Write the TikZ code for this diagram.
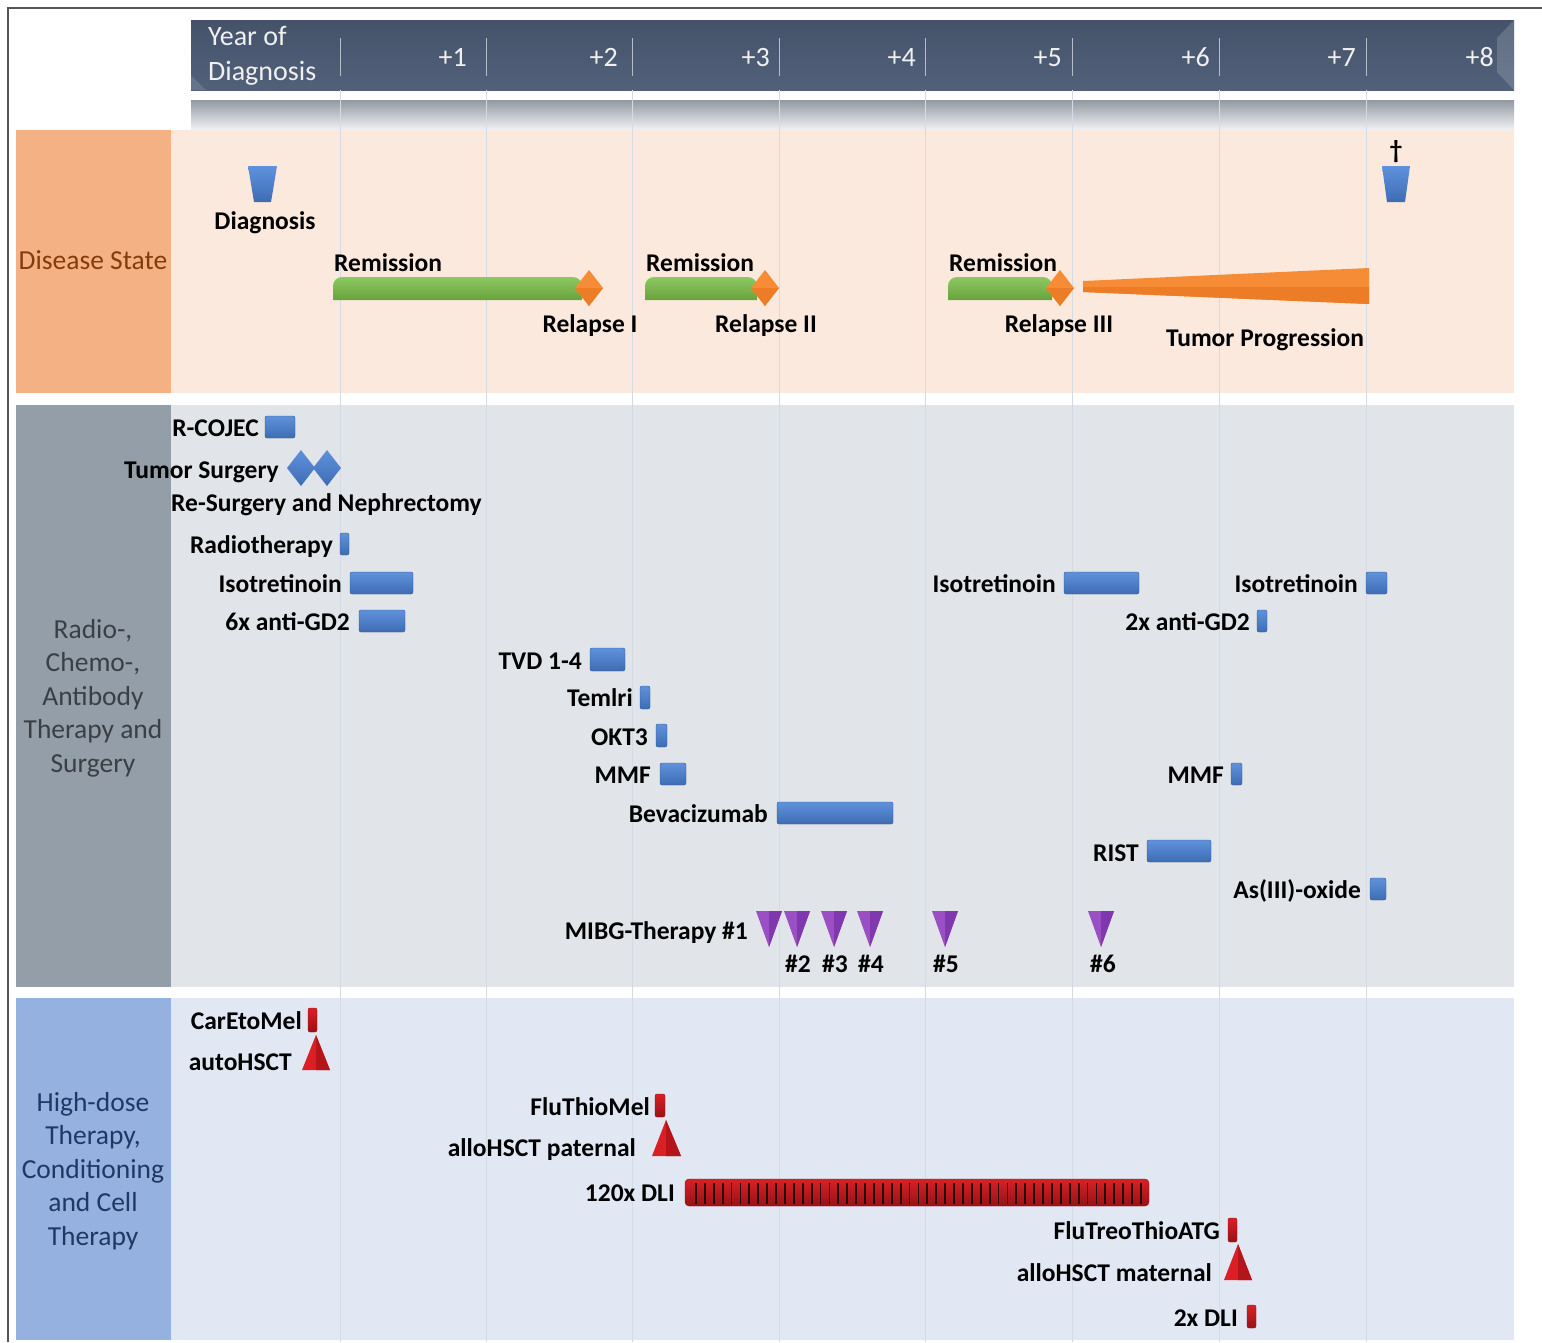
\documentclass[tikz,border=0pt]{standalone}
\usepackage{fontspec}
\setmainfont{Carlito}
\definecolor{hdr}{HTML}{4A5870}
\definecolor{hdrT}{HTML}{44526A}
\definecolor{hdrB}{HTML}{52617A}
\definecolor{dsL}{HTML}{F4B183}
\definecolor{dsR}{HTML}{FBE9DD}
\definecolor{rcL}{HTML}{949EA9}
\definecolor{rcR}{HTML}{E1E4E8}
\definecolor{hdL}{HTML}{95B1DF}
\definecolor{hdR}{HTML}{E1E7F3}
\definecolor{blueT}{HTML}{5F92DC}
\definecolor{blueB}{HTML}{3E6CB4}
\definecolor{grnT}{HTML}{8DC962}
\definecolor{grnB}{HTML}{68A23D}
\definecolor{org}{HTML}{F68C35}
\definecolor{orgD}{HTML}{EC7D26}
\definecolor{redT}{HTML}{DA2025}
\definecolor{redB}{HTML}{B3151A}
\definecolor{purT}{HTML}{9A4FC4}
\definecolor{purB}{HTML}{7F38AE}
\definecolor{gridc}{HTML}{D3DBE6}
\definecolor{dsTxt}{HTML}{843C0C}
\definecolor{rcTxt}{HTML}{3A3F46}
\definecolor{hdTxt}{HTML}{1F3864}
\definecolor{frame}{HTML}{555555}
\tikzset{
  lab/.style={font=\bfseries\fontsize{25.5}{30}\selectfont, inner sep=0pt, anchor=base east, text=black},
  labw/.style={lab, anchor=base west},
  labc/.style={lab, anchor=base},
  band/.style={font=\fontsize{27.5}{33.5}\selectfont, inner sep=0pt, align=center, anchor=base},
  hdtxt/.style={font=\fontsize{28}{32}\selectfont, inner sep=0pt, text=white!94!black},
  bluebar/.style={top color=blueT, bottom color=blueB, draw=blueB!80!black, line width=0.4pt, rounded corners=2pt},
  redbar/.style={top color=redT, bottom color=redB!85!black, draw=redB!80!black, line width=0.4pt, rounded corners=2pt},
  grnbar/.style={top color=grnT, bottom color=grnB},
}
\newcommand\mybar[6]{\path[#1] (#3,#5) rectangle (#4,#6) node[inner sep=0pt, pos=.5] (#2) {};}
\begin{document}
\begin{tikzpicture}[x=1pt,y=-1pt]
\useasboundingbox (0,0) rectangle (1542,1342);
\fill[white] (0,0) rectangle (1542,1342);
% frame
\draw[frame, line width=2pt] (8,1342) -- (8,8) -- (1542,8);
% header
\shade[top color=hdrT, bottom color=hdrB] (191,20) rectangle (1514,90);
\fill[white, opacity=0.16] (1514,20) -- (1514,90) -- (1497,72) -- (1497,38) -- cycle;
\fill[white, opacity=0.12] (191,90) -- (191,75) -- (206,90) -- cycle;
\foreach \x in {340,486,632,779,925,1072,1219,1366}
  \draw[white!60!hdr, line width=0.8pt] (\x,38) -- (\x,76);
\node[hdtxt, anchor=base west] (yr1) at (208,45) {Year of};
\node[hdtxt, anchor=base west] (yr2) at (208,80) {Diagnosis};
\foreach \x/\t [count=\i] in {467/+1,618/+2,770/+3,916/+4,1062/+5,1210/+6,1356/+7,1494/+8}
  \node[hdtxt, anchor=base east] (h\i) at (\x,66) {\t};
% gradient band
\shade[top color=black!30!hdrB!55!white, bottom color=white!92!hdrB] (191,100) rectangle (1514,130);
% bands
\fill[dsL] (16,130) rectangle (171,393);
\fill[dsR] (171,130) rectangle (1514,393);
\fill[rcL] (16,405) rectangle (171,987);
\fill[rcR] (171,405) rectangle (1514,987);
\fill[hdL] (16,998) rectangle (171,1340);
\fill[hdR] (171,998) rectangle (1514,1340);
% grid lines
\foreach \x in {340,486,632,779,925,1072,1219,1366}
  \draw[gridc, line width=0.8pt] (\x,90) -- (\x,1342);
% band labels
\node[band, text=dsTxt] (bl1) at (93,269) {Disease State};
\node[band, text=rcTxt] (bl2) at (93,772) {Radio-,\\Chemo-,\\Antibody\\Therapy and\\Surgery};
\node[band, text=hdTxt] (bl3) at (93,1245) {High-dose\\Therapy,\\Conditioning\\and Cell\\Therapy};

% ---------- Disease state ----------
\shade[top color=blueT, bottom color=blueB] (248,166) -- (277,166) -- (271,202) -- (254,202) -- cycle;
\node[labc] (diag) at (265,229) {Diagnosis};
\shade[top color=blueT, bottom color=blueB] (1382,166) -- (1410,166) -- (1405,202) -- (1387,202) -- cycle;
\node[labc] (death) at (1396,158) {†};
% remission bars
\shade[grnbar, rounded corners=9pt] (333,300) -- (333,277) -- (582,277) [sharp corners] -- (582,300) -- cycle;
\shade[grnbar, rounded corners=9pt] (645,300) -- (645,277) -- (757,277) [sharp corners] -- (757,300) -- cycle;
\shade[grnbar, rounded corners=9pt] (948,300) -- (948,277) -- (1052,277) [sharp corners] -- (1052,300) -- cycle;
\node[labw] (rem1) at (334,271) {Remission};
\node[labw] (rem2) at (646,271) {Remission};
\node[labw] (rem3) at (949,271) {Remission};
% diamonds
\foreach \x in {589,765,1060}{
  \fill[org] (\x-14,288) -- (\x,270) -- (\x+14,288) -- (\x,306) -- cycle;
  \fill[orgD] (\x-14,288) -- (\x+14,288) -- (\x,306) -- cycle;
}
\node[labc] (rel1) at (590,332) {Relapse I};
\node[labc] (rel2) at (766,332) {Relapse II};
\node[labc] (rel3) at (1059,332) {Relapse III};
% tumor progression wedge
\fill[org] (1083,281) -- (1369,268) -- (1369,304) -- (1083,292) -- cycle;
\fill[orgD] (1083,287) -- (1369,287) -- (1369,304) -- (1083,292) -- cycle;
\node[labc] (tp) at (1265,346) {Tumor Progression};

% ---------- Radio / chemo ----------
\node[lab] (t1) at (259,436) {R-COJEC};
\mybar{bluebar}{b1}{265}{295}{416}{438}
\node[lab] (t2) at (279,478) {Tumor Surgery};
\foreach \x in {301,327}
  \shade[top color=blueT, bottom color=blueB] (\x-14,468) -- (\x,450) -- (\x+14,468) -- (\x,486) -- cycle;
\node[labw] (t3) at (171,511) {Re-Surgery and Nephrectomy};
\node[lab] (t4) at (333,553) {Radiotherapy};
\mybar{bluebar}{b4}{340}{349}{533}{555}
\node[lab] (t5) at (342,592) {Isotretinoin};
\mybar{bluebar}{b5}{350}{413}{572}{594}
\node[lab] (t6) at (350,630) {6x anti-GD2};
\mybar{bluebar}{b6}{359}{405}{610}{632}
\node[lab] (t7) at (1056,592) {Isotretinoin};
\mybar{bluebar}{b7}{1064}{1139}{572}{594}
\node[lab] (t8) at (1358,592) {Isotretinoin};
\mybar{bluebar}{b8}{1366}{1387}{572}{594}
\node[lab] (t9) at (1250,630) {2x anti-GD2};
\mybar{bluebar}{b9}{1257}{1267}{610}{632}
\node[lab] (t10) at (582,669) {TVD 1-4};
\mybar{bluebar}{b10}{590}{625}{648}{671}
\node[lab] (t11) at (633,706) {Temlri};
\mybar{bluebar}{b11}{640}{650}{686}{709}
\node[lab] (t12) at (648,745) {OKT3};
\mybar{bluebar}{b12}{656}{667}{724}{747}
\node[lab] (t13) at (651,783) {MMF};
\mybar{bluebar}{b13}{660}{686}{763}{785}
\node[lab] (t14) at (1224,783) {MMF};
\mybar{bluebar}{b14}{1231}{1242}{763}{785}
\node[lab] (t15) at (768,822) {Bevacizumab};
\mybar{bluebar}{b15}{777}{893}{802}{824}
\node[lab] (t16) at (1139,861) {RIST};
\mybar{bluebar}{b16}{1147}{1211}{840}{862}
\node[lab] (t17) at (1361,898) {As(III)-oxide};
\mybar{bluebar}{b17}{1370}{1386}{878}{900}
\node[lab] (t18) at (748,939) {MIBG-Therapy \#1};
\foreach \x in {769,797,834,870,945,1101}{
  \fill[purT] (\x-13,911) -- (\x+13,911) -- (\x,947) -- cycle;
  \fill[purB] (\x,911) -- (\x+13,911) -- (\x,947) -- cycle;
}
\node[labc] (m2) at (798,972) {\#2};
\node[labc] (m3) at (835,972) {\#3};
\node[labc] (m4) at (871,972) {\#4};
\node[labc] (m5) at (946,972) {\#5};
\node[labc] (m6) at (1103,972) {\#6};

% ---------- High-dose ----------
\node[lab] (u1) at (302,1029) {CarEtoMel};
\mybar{redbar}{r1}{308}{317}{1008}{1032}
\node[lab] (u2) at (292,1070) {autoHSCT};
\fill[redT] (316,1035) -- (330,1070) -- (302,1070) -- cycle;
\fill[redB] (316,1035) -- (330,1070) -- (316,1070) -- cycle;
\node[lab] (u3) at (650,1115) {FluThioMel};
\mybar{redbar}{r3}{655}{665}{1094}{1117}
\node[lab] (u4) at (636,1156) {alloHSCT paternal};
\fill[redT] (666,1120) -- (681,1156) -- (652,1156) -- cycle;
\fill[redB] (666,1120) -- (681,1156) -- (666,1156) -- cycle;
\node[lab] (u5) at (675,1201) {120x DLI};
\mybar{redbar, rounded corners=4pt}{r5}{685}{1149}{1179}{1206}
\foreach \i in {0,...,50}
  \fill[black!85!red] ({695+\i*8.9},1183) rectangle ++(1.8,21);
\node[lab] (u6) at (1220,1239) {FluTreoThioATG};
\mybar{redbar}{r6}{1228}{1237}{1218}{1242}
\node[lab] (u7) at (1212,1281) {alloHSCT maternal};
\fill[redT] (1238,1244) -- (1252,1280) -- (1224,1280) -- cycle;
\fill[redB] (1238,1244) -- (1252,1280) -- (1238,1280) -- cycle;
\node[lab] (u8) at (1238,1326) {2x DLI};
\mybar{redbar}{r8}{1247}{1256}{1305}{1328}
\end{tikzpicture}
\end{document}
